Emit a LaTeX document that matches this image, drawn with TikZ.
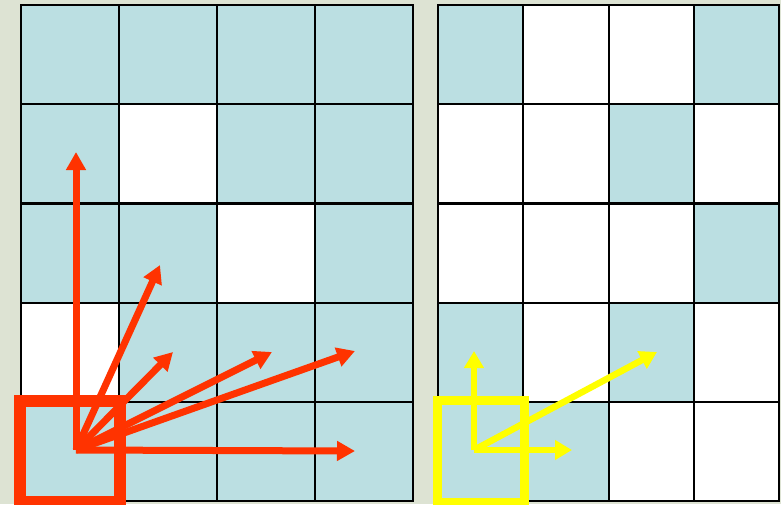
\documentclass[tikz,border=0pt]{standalone}
\usepackage{xcolor}
\usepackage{tikz}
\usetikzlibrary{arrows.meta, positioning}

\definecolor{cellteal}{RGB}{187,223,226}
\definecolor{marble}{RGB}{221,227,211}
\definecolor{vecred}{RGB}{255,51,0}
\definecolor{vecyellow}{RGB}{255,255,0}

\begin{document}
\begin{tikzpicture}[
    x=1pt, y=-1pt,
    lcell/.style={draw, line width=2.2pt, minimum width=98pt, minimum height=99.2pt, inner sep=0pt, anchor=north west},
    rcell/.style={lcell, minimum width=85.25pt},
    redvec/.style={line width=7pt, vecred, -{Triangle[length=18pt,width=19pt]}},
    yellowvec/.style={line width=6.5pt, vecyellow, -{Triangle[length=17pt,width=19pt]}}
]

% Background
\fill[marble] (0,0) rectangle (781,504);
\useasboundingbox (0,0) rectangle (781,504);

% Left grid
\foreach \fillc [count=\i from 0] in {
    cellteal,cellteal,cellteal,cellteal,
    cellteal,white,cellteal,cellteal,
    cellteal,cellteal,white,cellteal,
    white,cellteal,cellteal,cellteal,
    cellteal,cellteal,cellteal,cellteal} {
  \pgfmathtruncatemacro{\col}{mod(\i,4)}
  \pgfmathtruncatemacro{\row}{\i/4}
  \node (L\row\col) [lcell, fill=\fillc] at ({20+98*\col},{4+99.2*\row}) {};
}

% Right grid
\foreach \fillc [count=\i from 0] in {
    cellteal,white,white,cellteal,
    white,white,cellteal,white,
    white,white,white,cellteal,
    cellteal,white,cellteal,white,
    cellteal,cellteal,white,white} {
  \pgfmathtruncatemacro{\col}{mod(\i,4)}
  \pgfmathtruncatemacro{\row}{\i/4}
  \node (R\row\col) [rcell, fill=\fillc] at ({437+85.25*\col},{4+99.2*\row}) {};
}

% Highlighted cells
\draw[vecred, line width=12pt] (L40.north west) rectangle (L40.south east);
\draw[vecyellow, line width=9pt] (R40.north west) rectangle (R40.south east);

% Red vectors
\coordinate (rorig) at (76,450);
\coordinate (rup) at (76,152);
\coordinate (rsteep) at (160,265);
\coordinate (rmid) at (173,352);
\coordinate (rflat) at (272,352);
\coordinate (rlong) at (355,351);
\coordinate (rright) at (355,451);
\draw[redvec] (rorig) -- (rup);
\draw[redvec] (rorig) -- (rsteep);
\draw[redvec] (rorig) -- (rmid);
\draw[redvec] (rorig) -- (rflat);
\draw[redvec] (rorig) -- (rlong);
\draw[redvec] (rorig) -- (rright);

% Yellow vectors
\coordinate (yorig) at (474,450);
\coordinate (yup) at (474,351);
\coordinate (yright) at (572,450);
\coordinate (ydiag) at (657,352);
\draw[yellowvec] (yorig) -- (yup);
\draw[yellowvec] (yorig) -- (yright);
\draw[yellowvec] (yorig) -- (ydiag);

\end{tikzpicture}
\end{document}
